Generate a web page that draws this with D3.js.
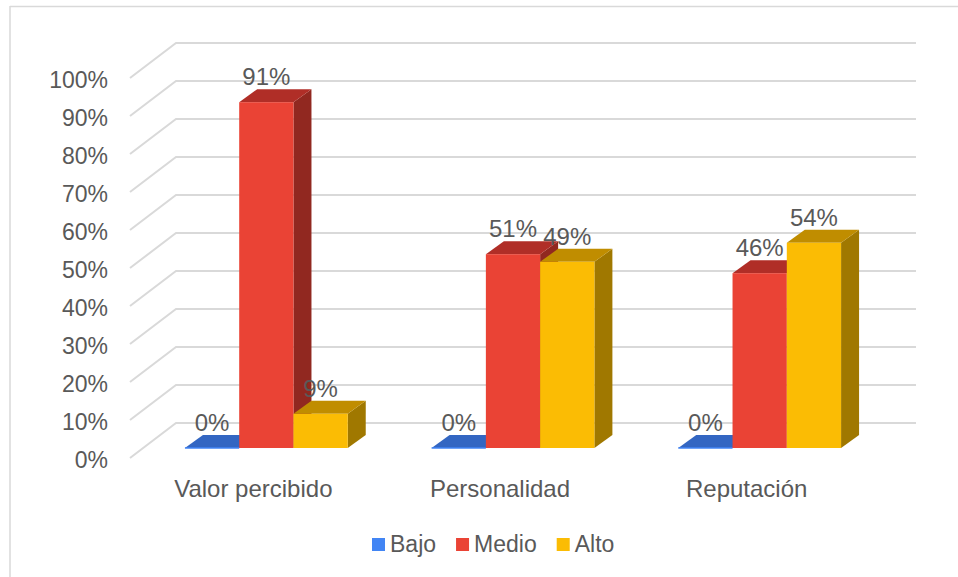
<!DOCTYPE html>
<html>
<head>
<meta charset="utf-8">
<script src="https://cdn.jsdelivr.net/npm/d3@7/dist/d3.min.js"></script>
<style>
  html, body { margin: 0; padding: 0; background: #fff; }
  svg { display: block; }
  text { font-family: "Liberation Sans", Arial, sans-serif; fill: #595959; }
</style>
</head>
<body>
<svg id="chart" width="958" height="577"></svg>
<script>
const categories = ["Valor percibido", "Personalidad", "Reputación"];
const seriesNames = ["Bajo", "Medio", "Alto"];
const bajo = [0, 0, 0];
const medio = [0.91, 0.51, 0.46];
const alto = [0.09, 0.49, 0.54];
const tickValues = [0, 0.1, 0.2, 0.3, 0.4, 0.5, 0.6, 0.7, 0.8, 0.9, 1.0];
const tickLabels = ["0%", "10%", "20%", "30%", "40%", "50%", "60%", "70%", "80%", "90%", "100%"];
const dataLabels = [["0%", "0%", "0%"], ["91%", "51%", "46%"], ["9%", "49%", "54%"]];

const seriesValues = [bajo, medio, alto];
const colors = {
  front: ["#4285F4", "#EA4335", "#FBBC04"],
  top:   ["#3366C2", "#B02E27", "#C08D00"],
  side:  ["#2A55A8", "#912820", "#A07800"]
};

const svg = d3.select("#chart");

// outer frame
svg.append("line").attr("x1", 10).attr("y1", 6.5).attr("x2", 958).attr("y2", 6.5)
  .attr("stroke", "#d9d9d9").attr("stroke-width", 1.5);
svg.append("line").attr("x1", 10).attr("y1", 6).attr("x2", 10).attr("y2", 577)
  .attr("stroke", "#d9d9d9").attr("stroke-width", 1.5);

// 3D geometry (oblique projection)
const wallDX = 46, wallDY = -35;          // full depth of the floor
const barFrontDX = 13, barFrontDY = -10;  // bar front face depth
const barDX = 18, barDY = -13;            // bar depth

const x0 = d3.scaleBand().domain(categories).range([130, 870]).paddingInner(0.34).paddingOuter(0.17);
const x1 = d3.scaleBand().domain(seriesNames).range([0, x0.bandwidth()]);
const y = d3.scaleLinear().domain([0, 1]).range([458, 78]);

// gridlines (floor diagonal + back wall)
const grid = svg.append("g");
tickValues.forEach(v => {
  const yy = y(v);
  grid.append("path")
    .attr("d", `M130,${yy} L${130 + wallDX},${yy + wallDY} L${870 + wallDX},${yy + wallDY}`)
    .attr("fill", "none").attr("stroke", "#d9d9d9").attr("stroke-width", 2);
});

// y axis labels
svg.append("g").selectAll("text").data(tickValues).join("text")
  .attr("x", 108).attr("y", d => y(d) + 2)
  .attr("dy", "0.35em")
  .attr("text-anchor", "end")
  .style("font-size", "23px")
  .text((d, i) => tickLabels[i]);

// bars
const bars = svg.append("g");
categories.forEach((cat, ci) => {
  seriesNames.forEach((s, si) => {
    const v = seriesValues[si][ci];
    const xl = x0(cat) + x1(s) + barFrontDX;
    const xr = xl + x1.bandwidth();
    const yb = y(0) + barFrontDY;
    const yt = y(v) + barFrontDY;
    const g = bars.append("g");
    g.append("path")
      .attr("d", `M${xr},${yb} L${xr + barDX},${yb + barDY} L${xr + barDX},${yt + barDY} L${xr},${yt} Z`)
      .attr("fill", colors.side[si]);
    g.append("path")
      .attr("d", `M${xl},${yt} L${xr},${yt} L${xr + barDX},${yt + barDY} L${xl + barDX},${yt + barDY} Z`)
      .attr("fill", colors.top[si]);
    if (v > 0) {
      g.append("rect").attr("x", xl).attr("y", yt).attr("width", xr - xl).attr("height", yb - yt)
        .attr("fill", colors.front[si]);
    } else {
      g.append("line").attr("x1", xl).attr("x2", xr).attr("y1", yb).attr("y2", yb)
        .attr("stroke", colors.front[si]).attr("stroke-width", 1.5);
    }
  });
});

// data labels
const labels = svg.append("g");
categories.forEach((cat, ci) => {
  seriesNames.forEach((s, si) => {
    const v = seriesValues[si][ci];
    const cx = x0(cat) + x1(s) + barFrontDX + x1.bandwidth() / 2;
    labels.append("text")
      .attr("x", cx)
      .attr("y", y(v) + barFrontDY + barDY - 4)
      .attr("text-anchor", "middle")
      .style("font-size", "24px")
      .text(dataLabels[si][ci]);
  });
});

// category labels
svg.append("g").selectAll("text").data(categories).join("text")
  .attr("x", d => x0(d) + x0.bandwidth() / 2)
  .attr("y", 497)
  .attr("text-anchor", "middle")
  .style("font-size", "24px")
  .text(d => d);

// legend
const legend = svg.append("g");
let lx = 372;
seriesNames.forEach((s, si) => {
  legend.append("rect").attr("x", lx).attr("y", 538).attr("width", 13).attr("height", 13)
    .attr("fill", colors.front[si]);
  const t = legend.append("text").attr("x", lx + 18).attr("y", 552)
    .style("font-size", "23px").text(s);
  lx += 18 + t.node().getComputedTextLength() + 20;
});
</script>
</body>
</html>
